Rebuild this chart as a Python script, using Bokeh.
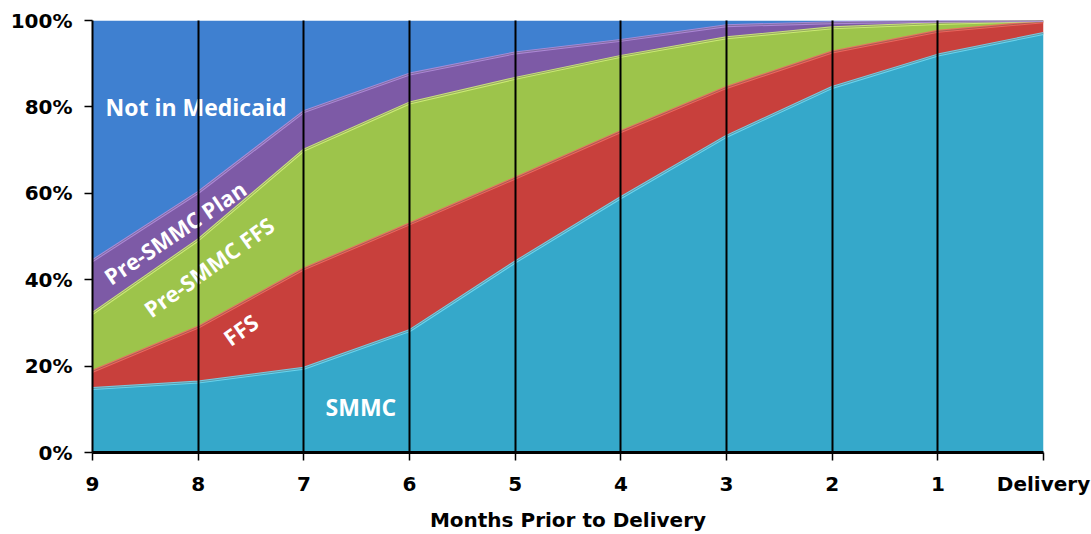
import math
from bokeh.plotting import figure
from bokeh.models import ColumnDataSource, FixedTicker, PrintfTickFormatter, Range1d
from bokeh.core.properties import value
from bokeh.embed import file_html
from bokeh.resources import INLINE

# ---- data (percent of women, stacked) ----
months = ["9", "8", "7", "6", "5", "4", "3", "2", "1", "Delivery"]
smmc = [14.8, 16.3, 19.5, 28.2, 44.1, 59.0, 73.2, 84.5, 92.0, 97.0]
ffs = [4.0, 12.7, 23.0, 24.7, 19.4, 15.3, 11.3, 8.2, 5.5, 2.7]
pre_smmc_ffs = [13.4, 20.2, 27.5, 28.0, 23.1, 17.4, 11.5, 5.6, 1.8, 0.3]
pre_smmc_plan = [12.2, 11.0, 8.9, 6.7, 5.9, 3.7, 2.8, 1.2, 0.5, 0.0]
not_in_medicaid = [55.6, 39.8, 21.1, 12.4, 7.5, 4.6, 1.2, 0.5, 0.2, 0.0]

series_names = ["SMMC", "FFS", "Pre-SMMC FFS", "Pre-SMMC Plan", "Not in Medicaid"]
series_values = [smmc, ffs, pre_smmc_ffs, pre_smmc_plan, not_in_medicaid]
y_ticks = [0, 20, 40, 60, 80, 100]

# ---- styles ----
colors = ["#35A8CA", "#C8403C", "#9DC44B", "#7D5AA6", "#3F80D0"]
highlights = ["#6FD8F2", "#EE6A62", "#D0EE78", "#B08CDA", "#6AA6EA"]

# label placements (data coordinates) and angles
label_x = [2.54, 1.40, 1.10, 0.78, 0.123]
label_y = [10.6, 28.5, 43.0, 51.0, 80.0]
label_angle = [0, 35, 35.5, 34, 0]
label_align = ["center", "center", "center", "center", "left"]
label_size = ["23px", "22px", "22px", "22px", "23px"]

x = list(range(len(months)))
data = {"x": x}
for n, v in zip(series_names, series_values):
    data[n] = v
src = ColumnDataSource(data)

p = figure(width=1091, height=534, output_backend="svg", toolbar_location=None,
           x_range=Range1d(0, len(months) - 1), y_range=Range1d(0, 100),
           min_border_left=92, min_border_right=48, min_border_top=20,
           min_border_bottom=79)
p.outline_line_color = None
p.background_fill_color = "white"

p.varea_stack(stackers=series_names, x="x", color=colors, source=src)

# bevel-like highlight along top edge of each band
cum = [0.0] * len(x)
for i, v in enumerate(series_values[:-1]):
    cum = [c + a for c, a in zip(cum, v)]
    p.line(x, cum, line_color=highlights[i], line_width=3, line_alpha=0.9)
    p.line(x, cum, line_color="#333333", line_width=1, line_alpha=0.35)

# labels inside areas
for i, n in enumerate(series_names):
    p.text(x=[label_x[i]], y=[label_y[i]], text=[n],
           angle=math.radians(label_angle[i]),
           text_color="white", text_font=value("Open Sans"),
           text_font_style="bold", text_font_size=label_size[i],
           text_align=label_align[i], text_baseline="middle")

# axes
p.xaxis.ticker = FixedTicker(ticks=x)
p.xaxis.major_label_overrides = {i: m for i, m in enumerate(months)}
p.yaxis.ticker = FixedTicker(ticks=y_ticks)
p.yaxis.formatter = PrintfTickFormatter(format="%d%%")
p.xaxis.axis_label = "Months Prior to Delivery"

for ax in (p.xaxis, p.yaxis):
    ax.major_label_text_font = "DejaVu Sans"
    ax.major_label_text_font_style = "bold"
    ax.major_label_text_font_size = "20px"
    ax.major_label_text_color = "black"
    ax.axis_line_color = "black"
    ax.major_tick_line_color = "black"
    ax.major_tick_line_width = 1.5
    ax.major_tick_out = 8
    ax.major_tick_in = 0
    ax.minor_tick_line_color = None
p.xaxis.axis_line_width = 3
p.yaxis.axis_line_width = 2
p.xaxis.major_label_standoff = 11
p.yaxis.major_label_standoff = 12
p.xaxis.axis_label_text_font = "DejaVu Sans"
p.xaxis.axis_label_text_font_style = "bold"
p.xaxis.axis_label_text_font_size = "20px"
p.xaxis.axis_label_text_color = "black"
p.xaxis.axis_label_standoff = 9

p.ygrid.grid_line_color = None
p.xgrid.grid_line_color = "black"
p.xgrid.grid_line_width = 2
p.xgrid.level = "overlay"

open("out.html", "w").write(file_html(p, INLINE))
